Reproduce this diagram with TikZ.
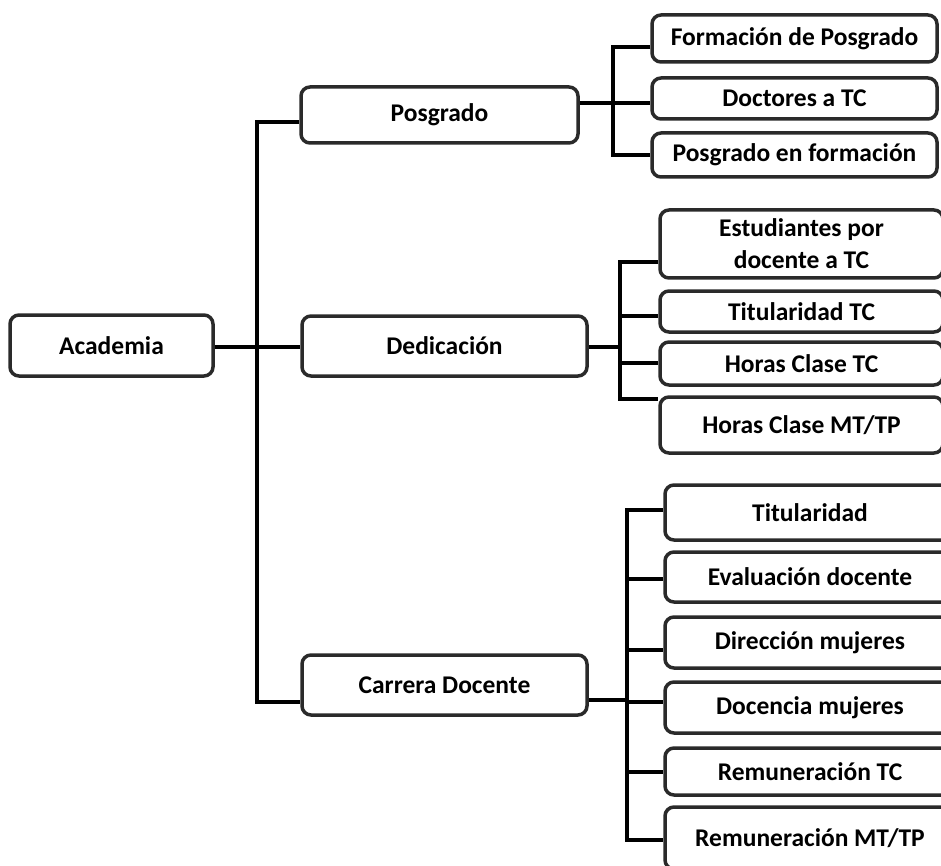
\documentclass[tikz,border=0pt]{standalone}
\usepackage{fontspec}
\setmainfont{Carlito}
\definecolor{boxline}{HTML}{2A2A2A}
\begin{document}
\begin{tikzpicture}[x=1pt,y=-1pt,
  box/.style={draw=boxline, line width=3.5pt, fill=white, rounded corners=9pt,
    inner sep=0pt, align=center, font=\bfseries\fontsize{25.5}{32}\selectfont},
  link/.style={draw=black, line width=4pt}]
\useasboundingbox (0,0) rectangle (941,866);

% root and first level
\node[box, minimum width=203pt, minimum height=61pt] (acad) at (111.5,345.5) {Academia};
\node[box, minimum width=277pt, minimum height=56pt] (posg) at (439.5,115) {Posgrado};
\node[box, minimum width=285pt, minimum height=60pt] (dedi) at (444.5,346) {Dedicación};
\node[box, minimum width=285pt, minimum height=60pt] (carr) at (444.5,685) {Carrera Docente};

% Posgrado items
\node[box, minimum width=285pt, minimum height=47pt] (p1) at (794.5,38.5) {Formación de Posgrado};
\node[box, minimum width=285pt, minimum height=41pt] (p2) at (794.5,98.5) {Doctores a TC};
\node[box, minimum width=285pt, minimum height=44pt] (p3) at (794.5,155) {Posgrado en formación};

% Dedicación items
\node[box, minimum width=283pt, minimum height=68pt] (d1) at (801.5,244) {Estudiantes por\\docente a TC};
\node[box, minimum width=283pt, minimum height=41pt] (d2) at (801.5,311.5) {Titularidad TC};
\node[box, minimum width=283pt, minimum height=43pt] (d3) at (801.5,363.5) {Horas Clase TC};
\node[box, minimum width=283pt, minimum height=56pt] (d4) at (801.5,425) {Horas Clase MT/TP};

% Carrera Docente items
\node[box, minimum width=290pt, minimum height=55pt] (c1) at (810,512.5) {Titularidad};
\node[box, minimum width=290pt, minimum height=50pt] (c2) at (810,577) {Evaluación docente};
\node[box, minimum width=290pt, minimum height=51pt] (c3) at (810,642.5) {Dirección mujeres};
\node[box, minimum width=290pt, minimum height=51pt] (c4) at (810,707.5) {Docencia mujeres};
\node[box, minimum width=290pt, minimum height=47pt] (c5) at (810,771.5) {Remuneración TC};
\node[box, minimum width=290pt, minimum height=62pt] (c6) at (810,838) {Remuneración MT/TP};

% junction points on the vertical bars
\coordinate (tTop) at (257,122);
\coordinate (tMid) at (257,347);
\coordinate (tBot) at (257,702);

\coordinate (pA) at (613,47);
\coordinate (pB) at (613,103);
\coordinate (pC) at (613,155);

\coordinate (dA) at (620,262);
\coordinate (dB) at (620,316);
\coordinate (dJ) at (620,347);
\coordinate (dC) at (620,363);
\coordinate (dD) at (620,399);

\coordinate (cA) at (627,510);
\coordinate (cB) at (627,579);
\coordinate (cC) at (627,650);
\coordinate (cJ) at (627,700);
\coordinate (cD) at (627,702);
\coordinate (cE) at (627,772);
\coordinate (cF) at (627,840);

% main trunk
\draw[link] (tTop -| posg.west) -- (tTop) -- (tBot) -- (tBot -| carr.west);
\draw[link] (acad.east |- tMid) -- (tMid -| dedi.west);

% Posgrado branch
\draw[link] (posg.east |- pB) -- (pB -| p2.west);
\draw[link] (pA -| p1.west) -- (pA) -- (pC) -- (pC -| p3.west);

% Dedicación branch
\draw[link] (dedi.east |- dJ) -- (dJ);
\draw[link] (dA -| d1.west) -- (dA) -- (dD) -- (dD -| d4.west);
\draw[link] (dB) -- (dB -| d2.west);
\draw[link] (dC) -- (dC -| d3.west);

% Carrera Docente branch
\draw[link] (carr.east |- cJ) -- (cJ);
\draw[link] (cA -| c1.west) -- (cA) -- (cF) -- (cF -| c6.west);
\draw[link] (cB) -- (cB -| c2.west);
\draw[link] (cC) -- (cC -| c3.west);
\draw[link] (cD) -- (cD -| c4.west);
\draw[link] (cE) -- (cE -| c5.west);
\end{tikzpicture}
\end{document}
